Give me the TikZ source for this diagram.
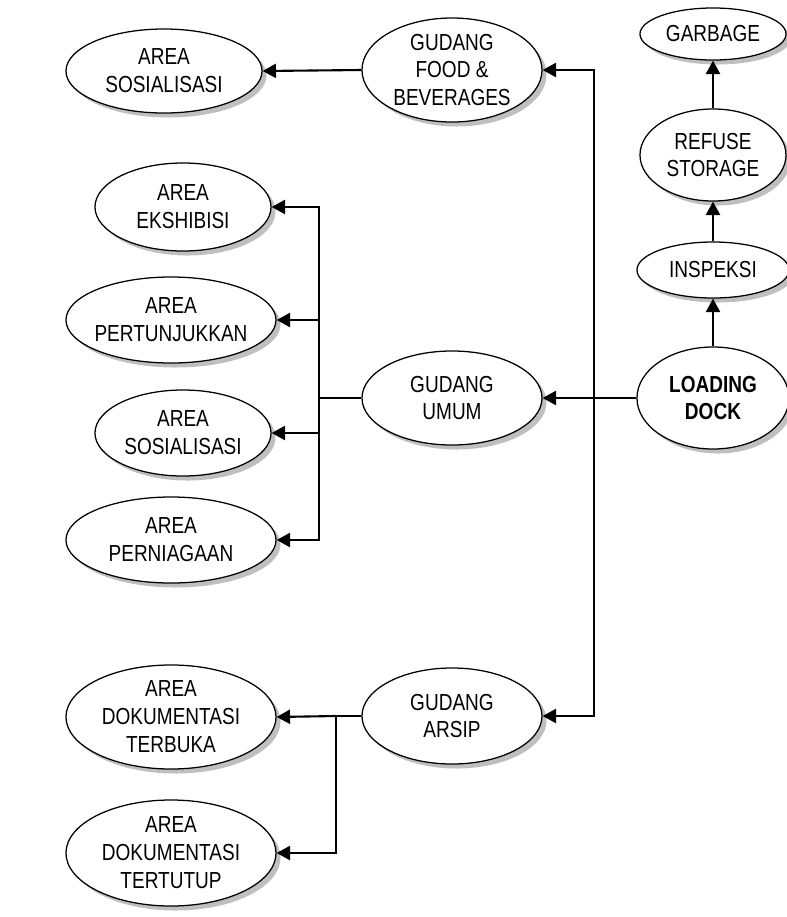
\documentclass[tikz,border=0pt]{standalone}
\usepackage{fontspec}
\setmainfont[FakeStretch=0.82]{Liberation Sans}
\usepackage{tikz}
\usetikzlibrary{positioning,shapes.geometric,shadows,arrows.meta}

\tikzset{
  el/.style={ellipse, draw, fill=white, line width=0.9pt, inner sep=-6pt, align=center,
    font=\fontsize{16.5}{19.9}\selectfont,
    drop shadow={shadow xshift=3.2pt, shadow yshift=-3.2pt, fill=black!25, opacity=1}},
  con/.style={line width=1.5pt},
  arr/.style={con, -{Triangle[length=9.5pt,width=10pt]}}
}

\begin{document}
\begin{tikzpicture}[x=0.025cm, y=-0.025cm]
   \useasboundingbox (0,0) rectangle (787,917);

   % right column
   \node[el, minimum width=3.65cm, minimum height=1.3cm]  (0) at (713,34)  {GARBAGE};
   \node[el, minimum width=3.65cm, minimum height=2.3cm]  (1) at (713,155) {REFUSE\\STORAGE};
   \node[el, minimum width=3.8cm,  minimum height=1.4cm]  (2) at (713,270) {INSPEKSI};
   \node[el, minimum width=3.8cm,  minimum height=2.55cm] (3) at (713,398) {\textbf{LOADING}\\\textbf{DOCK}};

   % gudang
   \node[el, minimum width=4.5cm, minimum height=2.6cm]  (4) at (452,70)  {GUDANG\\FOOD \&\\BEVERAGES};
   \node[el, minimum width=4.5cm, minimum height=2.35cm] (5) at (452,398) {GUDANG\\UMUM};
   \node[el, minimum width=4.5cm, minimum height=2.4cm]  (6) at (452,716) {GUDANG\\ARSIP};

   % areas
   \node[el, minimum width=4.9cm,  minimum height=2.1cm]  (7)  at (164,71)  {AREA\\SOSIALISASI};
   \node[el, minimum width=4.4cm,  minimum height=2.2cm]  (8)  at (183,207) {AREA\\EKSHIBISI};
   \node[el, minimum width=5.25cm, minimum height=2.15cm] (9)  at (171,320) {AREA\\PERTUNJUKKAN};
   \node[el, minimum width=4.4cm,  minimum height=2.15cm] (10) at (183,433) {AREA\\SOSIALISASI};
   \node[el, minimum width=5.25cm, minimum height=2.15cm] (11) at (171,540) {AREA\\PERNIAGAAN};
   \node[el, minimum width=5.25cm, minimum height=2.6cm]  (12) at (171,717) {AREA\\DOKUMENTASI\\TERBUKA};
   \node[el, minimum width=5.25cm, minimum height=2.65cm] (13) at (171,853) {AREA\\DOKUMENTASI\\TERTUTUP};

   \coordinate (r) at (594,398);
   \coordinate (l) at (319,398);
   \coordinate (a) at (336,716);

   \draw[arr] (3) -- (2);
   \draw[arr] (2) -- (1);
   \draw[arr] (1) -- (0);

   \draw[arr] (3.west) -- (5.east);
   \draw[arr] (r) |- (4.east);
   \draw[arr] (r) |- (6.east);

   \draw[arr] (4.west) -- (7.east);

   \draw[line width=0.9pt] (5.west) -- (l);
   \draw[arr] (l) |- (8.east);
   \draw[arr] (l) |- (9.east);
   \draw[arr] (l) |- (10.east);
   \draw[arr] (l) |- (11.east);

   \draw[con] (6.west) -- (a);
   \draw[arr] (a) -- (12.east);
   \draw[arr] (a) |- (13.east);
\end{tikzpicture}
\end{document}
